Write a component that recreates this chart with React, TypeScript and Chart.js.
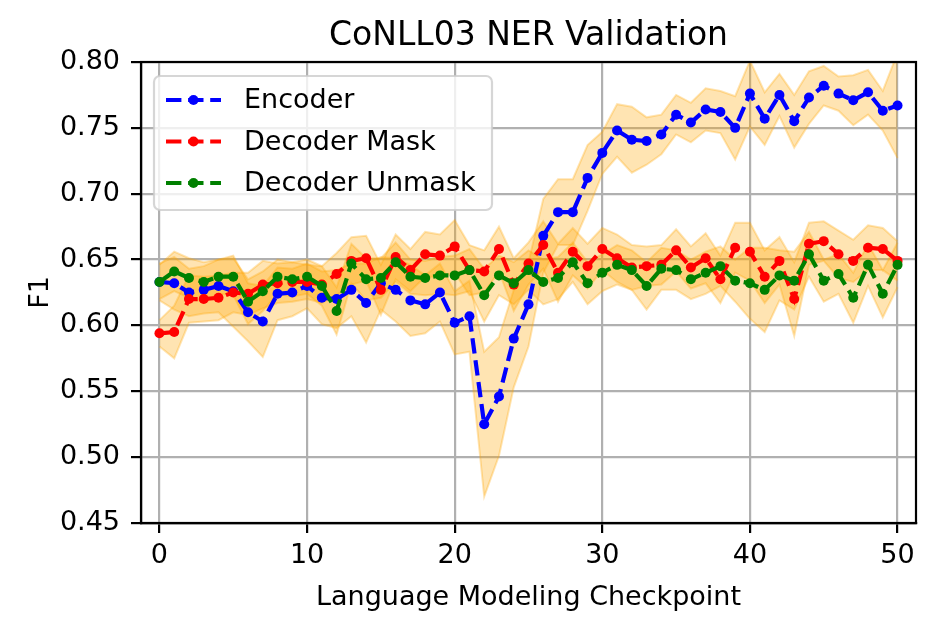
import { useEffect, useRef } from 'react'
import { Chart, registerables } from 'chart.js'

Chart.register(...registerables)

const checkpoints = [
  0, 1, 2, 3, 4, 5, 6, 7, 8, 9, 10, 11, 12, 13, 14, 15, 16, 17, 18, 19, 20, 21, 22, 23, 24, 25,
  26, 27, 28, 29, 30, 31, 32, 33, 34, 35, 36, 37, 38, 39, 40, 41, 42, 43, 44, 45, 46, 47, 48, 49, 50,
]

const encoderF1 = [
  0.633, 0.632, 0.625, 0.627, 0.630, 0.626, 0.610, 0.603, 0.624, 0.625, 0.630, 0.621, 0.620,
  0.627, 0.617, 0.632, 0.627, 0.619, 0.616, 0.625, 0.602, 0.607, 0.525, 0.546, 0.590, 0.616,
  0.668, 0.686, 0.686, 0.712, 0.731, 0.748, 0.741, 0.740, 0.745, 0.760, 0.754, 0.764, 0.762,
  0.750, 0.776, 0.757, 0.775, 0.755, 0.773, 0.782, 0.776, 0.771, 0.777, 0.763, 0.767,
]
const encoderStd = [
  0.014, 0.020, 0.018, 0.018, 0.020, 0.027, 0.022, 0.027, 0.020, 0.018, 0.017, 0.020, 0.022,
  0.020, 0.030, 0.020, 0.024, 0.027, 0.022, 0.022, 0.024, 0.027, 0.055, 0.045, 0.037, 0.032,
  0.028, 0.025, 0.025, 0.025, 0.016, 0.020, 0.025, 0.018, 0.015, 0.015, 0.015, 0.016, 0.016,
  0.024, 0.025, 0.020, 0.016, 0.020, 0.020, 0.015, 0.013, 0.019, 0.017, 0.015, 0.040,
]

const maskF1 = [
  0.594, 0.595, 0.620, 0.620, 0.621, 0.625, 0.624, 0.631, 0.632, 0.633, 0.633, 0.631, 0.639,
  0.649, 0.651, 0.627, 0.652, 0.642, 0.654, 0.653, 0.660, 0.642, 0.641, 0.658, 0.631, 0.647,
  0.661, 0.640, 0.656, 0.645, 0.658, 0.651, 0.644, 0.645, 0.646, 0.657, 0.644, 0.651, 0.635,
  0.659, 0.656, 0.637, 0.649, 0.620, 0.662, 0.664, 0.654, 0.649, 0.659, 0.658, 0.649,
]
const maskStd = [
  0.010, 0.020, 0.018, 0.017, 0.017, 0.015, 0.016, 0.018, 0.015, 0.015, 0.013, 0.014, 0.016,
  0.018, 0.017, 0.019, 0.017, 0.016, 0.017, 0.016, 0.020, 0.019, 0.016, 0.017, 0.020, 0.016,
  0.018, 0.022, 0.018, 0.017, 0.016, 0.018, 0.017, 0.015, 0.015, 0.016, 0.016, 0.019, 0.018,
  0.019, 0.022, 0.020, 0.018, 0.028, 0.016, 0.015, 0.018, 0.016, 0.017, 0.016, 0.015,
]

const unmaskF1 = [
  0.633, 0.641, 0.636, 0.633, 0.637, 0.637, 0.618, 0.626, 0.637, 0.635, 0.637, 0.630, 0.611,
  0.647, 0.635, 0.636, 0.648, 0.637, 0.636, 0.638, 0.638, 0.642, 0.623, 0.638, 0.632, 0.642,
  0.633, 0.636, 0.648, 0.632, 0.640, 0.646, 0.642, 0.630, 0.643, 0.642, 0.635, 0.640, 0.645,
  0.634, 0.632, 0.627, 0.638, 0.634, 0.654, 0.634, 0.639, 0.621, 0.646, 0.624, 0.646,
]
const unmaskStd = [
  0.013, 0.015, 0.015, 0.015, 0.013, 0.014, 0.017, 0.015, 0.013, 0.013, 0.013, 0.015, 0.018,
  0.015, 0.016, 0.015, 0.015, 0.013, 0.013, 0.014, 0.015, 0.016, 0.020, 0.015, 0.016, 0.015,
  0.017, 0.016, 0.015, 0.016, 0.014, 0.015, 0.015, 0.018, 0.016, 0.015, 0.015, 0.016, 0.015,
  0.016, 0.027, 0.032, 0.019, 0.022, 0.017, 0.016, 0.015, 0.019, 0.016, 0.018, 0.017,
]

const xTicks = [0, 10, 20, 30, 40, 50]
const yTicks = [0.45, 0.5, 0.55, 0.6, 0.65, 0.7, 0.75, 0.8]

const FONT = '"DejaVu Sans", "Liberation Sans", sans-serif'
const BAND_FILL = 'rgba(255, 165, 0, 0.3)'
const GRID = '#b0b0b0'
const DASH = [15.4, 6.7]

const series = [
  { label: 'Encoder', color: '#0000ff', mean: encoderF1, std: encoderStd },
  { label: 'Decoder Mask', color: '#ff0000', mean: maskF1, std: maskStd },
  { label: 'Decoder Unmask', color: '#008000', mean: unmaskF1, std: unmaskStd },
]

const points = (vals: number[]) => checkpoints.map((x, i) => ({ x, y: vals[i] }))

// title, axis labels, top/right spines and the matplotlib style legend
const decorations = {
  id: 'decorations',
  afterDatasetsDraw(chart: any) {
    const { ctx, chartArea: a } = chart
    ctx.save()
    ctx.strokeStyle = '#000'
    ctx.lineWidth = 2.2
    ctx.strokeRect(a.left, a.top, a.right - a.left, a.bottom - a.top)
    ctx.restore()
  },
  afterDraw(chart: any) {
    const { ctx, chartArea: a } = chart
    const cx = (a.left + a.right) / 2
    ctx.save()
    ctx.fillStyle = '#000'
    ctx.textAlign = 'center'
    ctx.textBaseline = 'alphabetic'
    ctx.font = `33px ${FONT}`
    ctx.fillText('CoNLL03 NER Validation', cx, 45)
    ctx.font = `27px ${FONT}`
    ctx.fillText('Language Modeling Checkpoint', cx, 605)
    ctx.save()
    ctx.translate(48, (a.top + a.bottom) / 2)
    ctx.rotate(-Math.PI / 2)
    ctx.fillText('F1', 0, 0)
    ctx.restore()

    // legend box
    const bx = 154, by = 76, bw = 338, bh = 134, r = 6
    ctx.beginPath()
    ctx.roundRect(bx, by, bw, bh, r)
    ctx.fillStyle = 'rgba(255, 255, 255, 0.8)'
    ctx.fill()
    ctx.strokeStyle = 'rgba(204, 204, 204, 0.8)'
    ctx.lineWidth = 2.2
    ctx.stroke()

    const lines = chart.data.datasets.filter((d: any) => d.label)
    lines.forEach((d: any, i: number) => {
      const y = 100 + i * 41.5
      ctx.beginPath()
      ctx.setLineDash(DASH)
      ctx.strokeStyle = d.borderColor
      ctx.lineWidth = 4.2
      ctx.moveTo(166, y)
      ctx.lineTo(221, y)
      ctx.stroke()
      ctx.setLineDash([])
      ctx.beginPath()
      ctx.arc(193.5, y, 5, 0, Math.PI * 2)
      ctx.fillStyle = d.borderColor
      ctx.fill()
      ctx.fillStyle = '#000'
      ctx.textAlign = 'left'
      ctx.textBaseline = 'middle'
      ctx.font = `27px ${FONT}`
      ctx.fillText(d.label, 244, y + 1)
    })
    ctx.restore()
  },
}

export default function App() {
  const canvasRef = useRef<HTMLCanvasElement>(null)

  useEffect(() => {
    if (!canvasRef.current) return

    const bands: any[] = []
    series.forEach((s, k) => {
      bands.push({
        data: points(s.mean.map((m, i) => m - s.std[i])),
        borderColor: BAND_FILL,
        borderWidth: 2,
        pointRadius: 0,
        fill: false,
        order: 20 + k,
      })
      bands.push({
        data: points(s.mean.map((m, i) => m + s.std[i])),
        borderColor: BAND_FILL,
        backgroundColor: BAND_FILL,
        borderWidth: 2,
        pointRadius: 0,
        fill: '-1',
        order: 20 + k,
      })
    })

    const lines = series.map((s, k) => ({
      label: s.label,
      data: points(s.mean),
      borderColor: s.color,
      backgroundColor: s.color,
      borderWidth: 4.2,
      borderDash: DASH,
      pointRadius: 5,
      pointBorderWidth: 0,
      pointBackgroundColor: s.color,
      fill: false,
      order: 3 - k,
    }))

    const chart = new Chart(canvasRef.current, {
      type: 'line',
      data: { datasets: [...bands, ...lines] },
      options: {
        animation: false,
        responsive: true,
        maintainAspectRatio: false,
        layout: { padding: { top: 62, right: 19, bottom: 0, left: 0 } },
        plugins: {
          legend: { display: false },
          tooltip: { enabled: false },
          title: { display: false },
        },
        scales: {
          x: {
            type: 'linear',
            min: -1.25,
            max: 51.25,
            afterBuildTicks: (scale: any) => {
              scale.ticks = xTicks.map((v) => ({ value: v }))
            },
            afterFit: (scale: any) => {
              scale.height = 108
            },
            ticks: {
              color: '#000',
              font: { family: FONT, size: 27 },
              padding: 7,
              maxRotation: 0,
              autoSkip: false,
            },
            grid: { color: GRID, lineWidth: 2.2, tickColor: '#000', tickWidth: 2.2, tickLength: 10 },
            border: { color: '#000', width: 2.2 },
          },
          y: {
            min: 0.45,
            max: 0.8,
            afterBuildTicks: (scale: any) => {
              scale.ticks = yTicks.map((v) => ({ value: v }))
            },
            afterFit: (scale: any) => {
              scale.width = 141
            },
            ticks: {
              color: '#000',
              font: { family: FONT, size: 27 },
              padding: 11,
              callback: (v: any) => Number(v).toFixed(2),
            },
            grid: { color: GRID, lineWidth: 2.2, tickColor: '#000', tickWidth: 2.2, tickLength: 10 },
            border: { color: '#000', width: 2.2 },
          },
        },
      },
      plugins: [decorations],
    })

    return () => chart.destroy()
  }, [])

  return (
    <div style={{ position: 'absolute', left: 0, top: 0, width: 935, height: 631, background: '#fff' }}>
      <canvas ref={canvasRef} />
    </div>
  )
}
